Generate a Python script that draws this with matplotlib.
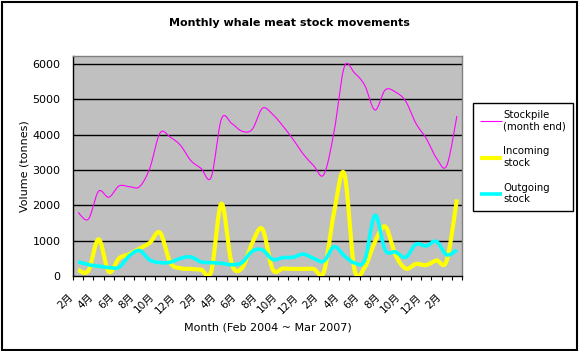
import numpy as np
import matplotlib
matplotlib.use("Agg")
import matplotlib.pyplot as plt
from matplotlib.patches import Rectangle
from matplotlib.transforms import ScaledTranslation

# ---- data ----
month_names = ["2月", "3月", "4月", "5月", "6月", "7月", "8月", "9月", "10月", "11月", "12月", "1月"]
stockpile = [1800, 1610, 2400, 2230, 2550, 2530, 2530, 3050, 4050, 3930,
             3700, 3270, 3050, 2800, 4450, 4320, 4100, 4150, 4750, 4580,
             4250, 3870, 3450, 3130, 2870, 4080, 5920, 5750, 5400, 4700,
             5270, 5210, 4950, 4320, 3900, 3340, 3120, 4530]
incoming = [170, 150, 1040, 120, 500, 620, 780, 940, 1230, 380,
            220, 200, 180, 130, 2050, 350, 220, 930, 1330, 190,
            210, 200, 200, 200, 110, 1800, 2900, 180, 250, 970,
            1400, 600, 210, 340, 310, 440, 430, 2170]
outgoing = [400, 320, 280, 240, 250, 570, 720, 450, 380, 390,
            500, 540, 400, 380, 360, 320, 380, 700, 740, 470,
            520, 530, 620, 500, 420, 830, 570, 370, 450, 1720,
            730, 680, 530, 900, 850, 980, 600, 740]
months = [month_names[i % 12] for i in range(len(stockpile))]
series_names = ["Stockpile\n(month end)", "Incoming\nstock", "Outgoing\nstock"]
yticks = [0, 1000, 2000, 3000, 4000, 5000, 6000]

plt.rcParams['font.family'] = ['DejaVu Sans', 'Noto Sans CJK JP']


def smooth(x, y, n=20):
    """Excel-style smoothed line (cubic Bezier through each data point)."""
    x = np.asarray(x, float)
    y = np.asarray(y, float)
    P = np.column_stack([x, y])
    out = []
    for i in range(len(P) - 1):
        p0 = P[i - 1] if i > 0 else P[i]
        p1 = P[i]
        p2 = P[i + 1]
        p3 = P[i + 2] if i + 2 < len(P) else P[i + 1]
        c1 = p1 + (p2 - p0) / 6.0
        c2 = p2 - (p3 - p1) / 6.0
        t = np.linspace(0, 1, n, endpoint=(i == len(P) - 2))[:, None]
        b = (1 - t) ** 3 * p1 + 3 * (1 - t) ** 2 * t * c1 + 3 * (1 - t) * t ** 2 * c2 + t ** 3 * p2
        out.append(b)
    B = np.vstack(out)
    return B[:, 0], B[:, 1]


fig = plt.figure(figsize=(5.79, 3.51), dpi=100)
fig.patch.set_facecolor("white")
# chart area border
fig.patches.append(Rectangle((1.5 / 579, 1.5 / 351), 575.5 / 579, 347.5 / 351,
                             transform=fig.transFigure, fill=False,
                             edgecolor="black", linewidth=1.5))

ax = fig.add_axes([73 / 579, 1 - 276 / 351, 389 / 579, 220 / 351])
ax.set_facecolor("#C0C0C0")

n = len(stockpile)
x = np.arange(n)
ax.set_xlim(-0.5, n - 0.5)
ax.set_ylim(0, 6230)

for v in yticks[1:]:
    ax.axhline(v, color="black", linewidth=1.0, zorder=1)

cols = ["#FF00FF", "#FFFF00", "#00FFFF"]
lws = [0.8, 3.0, 2.6]
handles = []
for data, c, lw, name in zip([stockpile, incoming, outgoing], cols, lws, series_names):
    sx, sy = smooth(x, data)
    h, = ax.plot(sx, sy, color=c, linewidth=lw, label=name, zorder=3,
                 solid_capstyle="butt", solid_joinstyle="round")
    handles.append(h)

ax.set_yticks(yticks)
ax.set_yticklabels([str(v) for v in yticks], fontsize=8)
ax.tick_params(axis="y", length=0, pad=9)

ax.set_xticks(x[::2])
ax.set_xticklabels(months[::2], rotation=45, ha="right", va="center",
                   rotation_mode="anchor", fontsize=7.5)
ax.set_xticks(np.arange(n + 1) - 0.5, minor=True)
ax.tick_params(axis="x", which="major", length=0, pad=0)
ax.tick_params(axis="x", which="minor", length=3, width=0.8, direction="out")
shift = ScaledTranslation(-7 / 100, -19 / 100, fig.dpi_scale_trans)
for lab in ax.get_xticklabels():
    lab.set_transform(lab.get_transform() + shift)

for s in ["top", "right"]:
    ax.spines[s].set_color("#808080")
    ax.spines[s].set_linewidth(1.0)
for s in ["left", "bottom"]:
    ax.spines[s].set_color("black")
    ax.spines[s].set_linewidth(1.0)

ax.set_xlabel("Month (Feb 2004 ~ Mar 2007)", fontsize=8, labelpad=5)
ax.set_ylabel("Volume (tonnes)", fontsize=8, labelpad=2)
fig.text(0.5, 1 - 23 / 351, "Monthly whale meat stock movements", ha="center",
         va="center", fontsize=8, fontweight="bold")

leg = ax.legend(handles=handles, loc="upper left",
                bbox_to_anchor=(473 / 579, 1 - 103 / 351),
                bbox_transform=fig.transFigure, fontsize=7.3, frameon=True,
                fancybox=False, edgecolor="black", framealpha=1,
                handlelength=2.2, handletextpad=0.1, labelspacing=1.45,
                borderpad=0.7, borderaxespad=0)
leg.get_frame().set_linewidth(1.0)

fig.savefig("out.png", dpi=100)
